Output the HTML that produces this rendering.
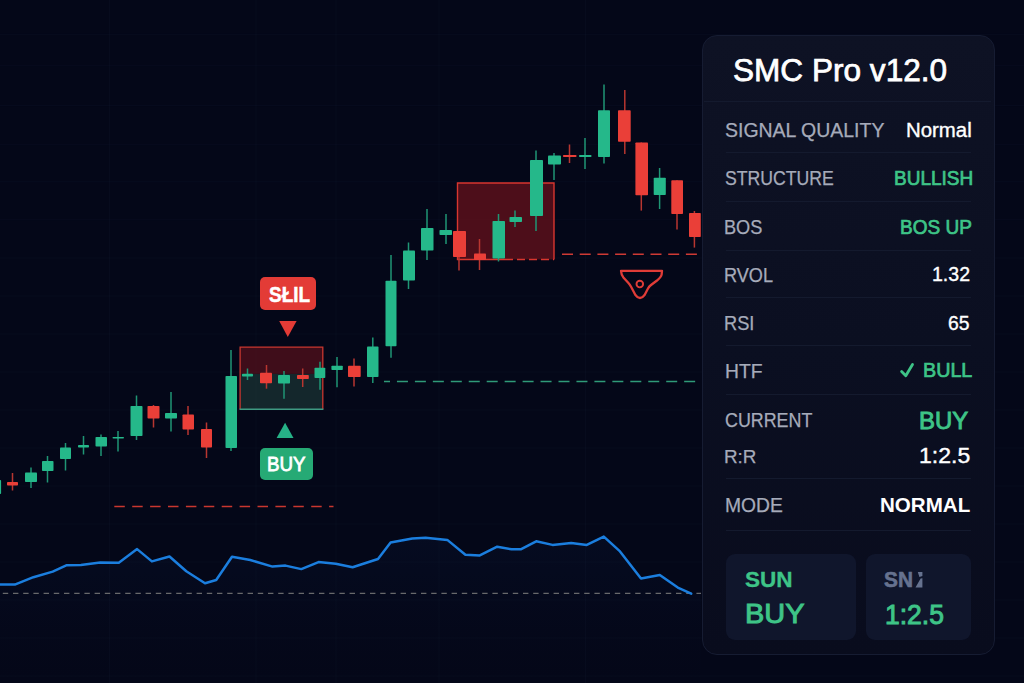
<!DOCTYPE html>
<html><head><meta charset="utf-8"><title>SMC Pro</title>
<style>
html,body{margin:0;padding:0;background:#040718;}
body{width:1024px;height:683px;overflow:hidden;position:relative;font-family:"Liberation Sans",sans-serif;}
.tag{position:absolute;border-radius:5px;}
.sell{left:260.2px;top:276.7px;width:55.9px;height:33.8px;background:#e33b36;}
.buy{left:259.9px;top:448.1px;width:53.5px;height:32px;background:#26aa75;}
.panel{position:absolute;left:701.8px;top:34.6px;width:292.8px;height:620.8px;background:linear-gradient(180deg,#0e1224 0%,#0b0f21 50%,#090c1d 100%);border:1px solid #161c32;border-radius:15px;box-sizing:border-box;}
.sep{position:absolute;height:1px;background:#141a2e;}
.t{position:absolute;white-space:nowrap;line-height:1;transform-origin:0 50%;display:block;}
.card{position:absolute;top:553.5px;height:86.5px;background:#10162c;border-radius:9px;}
</style></head><body>
<svg width="1024" height="683" viewBox="0 0 1024 683" style="position:absolute;left:0;top:0"><defs><linearGradient id="ag" x1="0" y1="0" x2="0" y2="1"><stop offset="0" stop-color="#0f2a5c" stop-opacity="0.13"/><stop offset="1" stop-color="#0a1838" stop-opacity="0"/></linearGradient></defs><line x1="0" y1="34.4" x2="1024" y2="34.4" stroke="#16203a" stroke-opacity="0.18" stroke-width="1"/><line x1="0" y1="65.7" x2="1024" y2="65.7" stroke="#16203a" stroke-opacity="0.18" stroke-width="1"/><line x1="0" y1="105.6" x2="1024" y2="105.6" stroke="#16203a" stroke-opacity="0.18" stroke-width="1"/><line x1="0" y1="144.7" x2="1024" y2="144.7" stroke="#16203a" stroke-opacity="0.18" stroke-width="1"/><line x1="0" y1="181.8" x2="1024" y2="181.8" stroke="#16203a" stroke-opacity="0.18" stroke-width="1"/><line x1="0" y1="219.7" x2="1024" y2="219.7" stroke="#16203a" stroke-opacity="0.18" stroke-width="1"/><line x1="0" y1="258" x2="1024" y2="258" stroke="#16203a" stroke-opacity="0.18" stroke-width="1"/><line x1="0" y1="296" x2="1024" y2="296" stroke="#16203a" stroke-opacity="0.18" stroke-width="1"/><line x1="0" y1="334" x2="1024" y2="334" stroke="#16203a" stroke-opacity="0.18" stroke-width="1"/><line x1="0" y1="372" x2="1024" y2="372" stroke="#16203a" stroke-opacity="0.18" stroke-width="1"/><line x1="0" y1="410" x2="1024" y2="410" stroke="#16203a" stroke-opacity="0.18" stroke-width="1"/><line x1="0" y1="448" x2="1024" y2="448" stroke="#16203a" stroke-opacity="0.18" stroke-width="1"/><line x1="0" y1="486" x2="1024" y2="486" stroke="#16203a" stroke-opacity="0.18" stroke-width="1"/><line x1="0" y1="524" x2="1024" y2="524" stroke="#16203a" stroke-opacity="0.18" stroke-width="1"/><line x1="0" y1="562" x2="1024" y2="562" stroke="#16203a" stroke-opacity="0.18" stroke-width="1"/><line x1="0" y1="600" x2="1024" y2="600" stroke="#16203a" stroke-opacity="0.18" stroke-width="1"/><line x1="0" y1="638" x2="1024" y2="638" stroke="#16203a" stroke-opacity="0.18" stroke-width="1"/><line x1="0" y1="676" x2="1024" y2="676" stroke="#16203a" stroke-opacity="0.18" stroke-width="1"/><line x1="109.5" y1="0" x2="109.5" y2="683" stroke="#16203a" stroke-opacity="0.18" stroke-width="1"/><line x1="256" y1="0" x2="256" y2="683" stroke="#16203a" stroke-opacity="0.18" stroke-width="1"/><line x1="336" y1="0" x2="336" y2="683" stroke="#16203a" stroke-opacity="0.18" stroke-width="1"/><line x1="439" y1="0" x2="439" y2="683" stroke="#16203a" stroke-opacity="0.18" stroke-width="1"/><line x1="585.5" y1="0" x2="585.5" y2="683" stroke="#16203a" stroke-opacity="0.18" stroke-width="1"/><polygon points="0,584.6 14.8,584.6 33.4,577.2 52.7,571.6 66.8,565.2 80.9,564.9 100.2,562.4 118.8,562.8 137.1,549.1 151.9,561.4 169.5,556.5 186.3,571.2 205,583.2 216.2,580 232,556.8 250.3,560 272.5,566.6 285.5,565.6 301.3,569.1 318.5,562.1 335.8,563.8 352.6,567.3 378,559 390.6,542.4 412.3,538.4 425.6,537.7 447.3,539.9 465.4,554.7 479.8,555.4 497.2,546.7 511.6,549.3 520.7,549.3 536.2,541.3 552.5,544.9 571.2,543.1 586.8,544.9 603.8,536.6 620,551.4 641,578.5 659.8,574.9 677.8,587.6 691.2,593.7 701,594 701,683 0,683" fill="url(#ag)"/><rect x="457.5" y="183" width="96.5" height="76.5" fill="#7a141c" fill-opacity="0.62"/><path d="M505,259.5 L457.5,259.5 L457.5,183 L554,183 L554,259.5" fill="none" stroke="#d8362f" stroke-width="1.4"/><line x1="505" y1="259.5" x2="554" y2="259.5" stroke="#d8362f" stroke-width="1.4" stroke-dasharray="8 4"/><rect x="240.1" y="347.1" width="82.7" height="26.8" fill="#7a141c" fill-opacity="0.50"/><rect x="240.1" y="373.9" width="82.7" height="35.4" fill="#22423e" fill-opacity="0.55"/><path d="M240.1,409.3 L240.1,347.1 L322.8,347.1 L322.8,409.3" fill="none" stroke="#c9372f" stroke-width="1.3"/><line x1="239.5" y1="409.3" x2="323.4" y2="409.3" stroke="#3f9a82" stroke-width="1.5"/><line x1="562" y1="254.2" x2="698" y2="254.2" stroke="#cf3a34" stroke-width="1.5" stroke-dasharray="11 6.7"/><line x1="384" y1="381.6" x2="695.6" y2="381.6" stroke="#2f9a78" stroke-width="1.5" stroke-dasharray="11 6.95" stroke-dashoffset="5"/><line x1="114.3" y1="506.5" x2="333.5" y2="506.5" stroke="#c9372f" stroke-width="1.6" stroke-dasharray="10.5 7.4"/><line x1="2.8" y1="593.4" x2="701" y2="593.4" stroke="#68696b" stroke-width="1.1" stroke-dasharray="5.4 4.8"/><line x1="-1" y1="478" x2="-1" y2="496" stroke="#1f9674" stroke-width="1.5"/><rect x="-4" y="480" width="5.1" height="14.0" rx="0.8" fill="#25b88a"/><line x1="12.5" y1="473" x2="12.5" y2="490.5" stroke="#b83630" stroke-width="1.5"/><rect x="7" y="482" width="11.0" height="3.5" rx="0.8" fill="#ea3f38"/><line x1="31" y1="467.5" x2="31" y2="488" stroke="#1f9674" stroke-width="1.5"/><rect x="25" y="472.5" width="12.0" height="9.5" rx="0.8" fill="#25b88a"/><line x1="47.5" y1="456" x2="47.5" y2="482.5" stroke="#1f9674" stroke-width="1.5"/><rect x="42" y="461" width="11.5" height="10.0" rx="0.8" fill="#25b88a"/><line x1="65.5" y1="443" x2="65.5" y2="470.5" stroke="#1f9674" stroke-width="1.5"/><rect x="60" y="447.5" width="11.0" height="11.5" rx="0.8" fill="#25b88a"/><line x1="83.5" y1="436" x2="83.5" y2="454.5" stroke="#1f9674" stroke-width="1.5"/><rect x="78" y="445" width="11.0" height="2.5" rx="0.8" fill="#25b88a"/><line x1="101" y1="434.5" x2="101" y2="456" stroke="#1f9674" stroke-width="1.5"/><rect x="95.5" y="437" width="11.5" height="9.5" rx="0.8" fill="#25b88a"/><line x1="118" y1="431" x2="118" y2="451.5" stroke="#1f9674" stroke-width="1.5"/><rect x="112.5" y="437" width="11.5" height="1.5" rx="0.8" fill="#25b88a"/><line x1="136.5" y1="395.5" x2="136.5" y2="440" stroke="#1f9674" stroke-width="1.5"/><rect x="130.5" y="406" width="12.0" height="30.0" rx="0.8" fill="#25b88a"/><line x1="153.5" y1="405" x2="153.5" y2="427.5" stroke="#b83630" stroke-width="1.5"/><rect x="147.5" y="406" width="12.0" height="12.5" rx="0.8" fill="#ea3f38"/><line x1="171" y1="392" x2="171" y2="431.5" stroke="#1f9674" stroke-width="1.5"/><rect x="165" y="413" width="12.0" height="5.5" rx="0.8" fill="#25b88a"/><line x1="188" y1="406" x2="188" y2="435" stroke="#b83630" stroke-width="1.5"/><rect x="182.5" y="414.5" width="11.5" height="15.0" rx="0.8" fill="#ea3f38"/><line x1="206.5" y1="422.5" x2="206.5" y2="458" stroke="#b83630" stroke-width="1.5"/><rect x="201" y="429" width="11.0" height="18.5" rx="0.8" fill="#ea3f38"/><line x1="231" y1="350" x2="231" y2="451" stroke="#1f9674" stroke-width="1.5"/><rect x="225.5" y="376" width="11.5" height="72.0" rx="0.8" fill="#25b88a"/><line x1="247.5" y1="368.5" x2="247.5" y2="380" stroke="#1f9674" stroke-width="1.5"/><rect x="242" y="373.8" width="11.0" height="2.7" rx="0.8" fill="#25b88a"/><line x1="266.5" y1="365" x2="266.5" y2="388.7" stroke="#b83630" stroke-width="1.5"/><rect x="260" y="372.8" width="12.0" height="10.5" rx="0.8" fill="#ea3f38"/><line x1="284" y1="371" x2="284" y2="398.8" stroke="#1f9674" stroke-width="1.5"/><rect x="278" y="375" width="12.0" height="8.6" rx="0.8" fill="#25b88a"/><line x1="302.7" y1="368.5" x2="302.7" y2="387" stroke="#b83630" stroke-width="1.5"/><rect x="297" y="375" width="11.8" height="4.0" rx="0.8" fill="#ea3f38"/><line x1="320" y1="361.7" x2="320" y2="389.7" stroke="#1f9674" stroke-width="1.5"/><rect x="314.5" y="367.8" width="10.8" height="10.2" rx="0.8" fill="#25b88a"/><line x1="337" y1="357" x2="337" y2="387.3" stroke="#1f9674" stroke-width="1.5"/><rect x="331.4" y="365.8" width="11.4" height="4.2" rx="0.8" fill="#25b88a"/><line x1="354" y1="358.4" x2="354" y2="386.6" stroke="#b83630" stroke-width="1.5"/><rect x="348" y="365.8" width="12.7" height="11.2" rx="0.8" fill="#ea3f38"/><line x1="372.8" y1="337.5" x2="372.8" y2="383" stroke="#1f9674" stroke-width="1.5"/><rect x="367" y="346.6" width="11.5" height="30.4" rx="0.8" fill="#25b88a"/><line x1="391" y1="255" x2="391" y2="357.7" stroke="#1f9674" stroke-width="1.5"/><rect x="385.5" y="280.7" width="11.0" height="65.5" rx="0.8" fill="#25b88a"/><line x1="408.5" y1="242.5" x2="408.5" y2="289" stroke="#1f9674" stroke-width="1.5"/><rect x="403" y="250.5" width="12.0" height="30.0" rx="0.8" fill="#25b88a"/><line x1="427" y1="209" x2="427" y2="260" stroke="#1f9674" stroke-width="1.5"/><rect x="421" y="228" width="12.5" height="22.5" rx="0.8" fill="#25b88a"/><line x1="446" y1="214" x2="446" y2="244" stroke="#1f9674" stroke-width="1.5"/><rect x="439.5" y="230" width="12.5" height="5.0" rx="0.8" fill="#25b88a"/><line x1="459" y1="231" x2="459" y2="270.5" stroke="#b83630" stroke-width="1.5"/><rect x="453" y="231" width="13.0" height="26.0" rx="0.8" fill="#ea3f38"/><line x1="479.5" y1="239" x2="479.5" y2="270" stroke="#b83630" stroke-width="1.5"/><rect x="474" y="253.5" width="12.0" height="6.5" rx="0.8" fill="#ea3f38"/><line x1="498.5" y1="214" x2="498.5" y2="261.5" stroke="#1f9674" stroke-width="1.5"/><rect x="492.5" y="221" width="12.5" height="37.5" rx="0.8" fill="#25b88a"/><line x1="515" y1="210.5" x2="515" y2="227" stroke="#1f9674" stroke-width="1.5"/><rect x="509.5" y="217" width="12.5" height="5.0" rx="0.8" fill="#25b88a"/><line x1="536" y1="150.5" x2="536" y2="231" stroke="#1f9674" stroke-width="1.5"/><rect x="530" y="160" width="13.0" height="56.0" rx="0.8" fill="#25b88a"/><line x1="554" y1="153" x2="554" y2="180" stroke="#1f9674" stroke-width="1.5"/><rect x="548" y="155.5" width="13.0" height="9.0" rx="0.8" fill="#25b88a"/><line x1="569.5" y1="144.5" x2="569.5" y2="163" stroke="#b83630" stroke-width="1.5"/><rect x="563" y="155" width="13.5" height="2.0" rx="0.8" fill="#ea3f38"/><line x1="585" y1="138" x2="585" y2="169" stroke="#1f9674" stroke-width="1.5"/><rect x="579" y="155" width="12.5" height="2.0" rx="0.8" fill="#25b88a"/><line x1="604" y1="84.6" x2="604" y2="163.4" stroke="#1f9674" stroke-width="1.5"/><rect x="598" y="110.3" width="12.0" height="46.7" rx="0.8" fill="#25b88a"/><line x1="624.8" y1="90" x2="624.8" y2="154" stroke="#b83630" stroke-width="1.5"/><rect x="618" y="110.3" width="12.7" height="31.5" rx="0.8" fill="#ea3f38"/><line x1="641.3" y1="142.5" x2="641.3" y2="210.6" stroke="#b83630" stroke-width="1.5"/><rect x="635.4" y="142.5" width="12.6" height="52.7" rx="0.8" fill="#ea3f38"/><line x1="659.6" y1="168" x2="659.6" y2="209" stroke="#1f9674" stroke-width="1.5"/><rect x="653.7" y="177.7" width="12.1" height="17.3" rx="0.8" fill="#25b88a"/><line x1="677" y1="180.2" x2="677" y2="229.6" stroke="#b83630" stroke-width="1.5"/><rect x="671.3" y="180.2" width="11.7" height="33.8" rx="0.8" fill="#ea3f38"/><line x1="694.4" y1="211" x2="694.4" y2="247.6" stroke="#b83630" stroke-width="1.5"/><rect x="689" y="213" width="11.8" height="24.0" rx="0.8" fill="#ea3f38"/><polyline points="0,584.6 14.8,584.6 33.4,577.2 52.7,571.6 66.8,565.2 80.9,564.9 100.2,562.4 118.8,562.8 137.1,549.1 151.9,561.4 169.5,556.5 186.3,571.2 205,583.2 216.2,580 232,556.8 250.3,560 272.5,566.6 285.5,565.6 301.3,569.1 318.5,562.1 335.8,563.8 352.6,567.3 378,559 390.6,542.4 412.3,538.4 425.6,537.7 447.3,539.9 465.4,554.7 479.8,555.4 497.2,546.7 511.6,549.3 520.7,549.3 536.2,541.3 552.5,544.9 571.2,543.1 586.8,544.9 603.8,536.6 620,551.4 641,578.5 659.8,574.9 677.8,587.6 691.2,593.7" fill="none" stroke="#1b7ede" stroke-width="2.5" stroke-linejoin="round" stroke-linecap="round"/><polygon points="279.2,321 296.6,321 287.8,337.1" fill="#e33b36"/><polygon points="276.6,437.9 293.5,437.9 285.1,422.7" fill="#26b287"/><path d="M621,270.8 L662,270.8 L661.6,274.6 Q661.2,277 657,280.5 L651,285 Q649,286.6 648,288.5 L644.6,295 Q640,301 635.4,295 L631.2,287 Q630,284.8 628,282.6 L623.4,277.4 Q621.3,275 621,270.8 Z" fill="none" stroke="#e03c37" stroke-width="2.3" stroke-linejoin="round"/><circle cx="639.8" cy="284.1" r="3.3" fill="none" stroke="#e03c37" stroke-width="1.9"/></svg>
<div class="tag sell"></div>
<div class="tag buy"></div>
<div class="panel"></div>
<div class="sep" style="top:100.5px;left:704px;width:287px"></div><div class="sep" style="top:152.2px;left:726px;width:245px"></div><div class="sep" style="top:200.5px;left:726px;width:245px"></div><div class="sep" style="top:249.5px;left:726px;width:245px"></div><div class="sep" style="top:296.8px;left:726px;width:245px"></div><div class="sep" style="top:345.2px;left:726px;width:245px"></div><div class="sep" style="top:393.5px;left:726px;width:245px"></div><div class="sep" style="top:477.8px;left:726px;width:245px"></div><div class="sep" style="top:529.5px;left:726px;width:245px"></div>
<div class="card" style="left:725.8px;width:130.4px"></div>
<div class="card" style="left:865.5px;width:105.5px"></div>
<svg class="ico" width="1024" height="683" viewBox="0 0 1024 683" style="position:absolute;left:0;top:0">
<path d="M901.6,371.4 L905.8,375.7 L912.5,364.5" fill="none" stroke="#3ec487" stroke-width="2.8" stroke-linecap="round" stroke-linejoin="round"/>
<path d="M917.8,572 L922.4,572 L922.4,576 L919.4,577 Z M915.5,587.6 L922.4,587.6 L922.4,578.2 L920.6,578.4 Z" fill="#66728f"/>
</svg>
<span class="t" id="title" style="left:732.63px;top:54.01px;font-size:32px;color:#ffffff;-webkit-text-stroke:0.75px #ffffff;transform:scaleX(0.9868);">SMC Pro v12.0</span><span class="t" id="sigq_l" style="left:725.35px;top:120.89px;font-size:19.5px;color:#a6abba;-webkit-text-stroke:0.25px #a6abba;transform:scaleX(0.9984);">SIGNAL QUALITY</span><span class="t" id="sigq_v" style="left:905.69px;top:120.79px;font-size:19.5px;color:#ffffff;-webkit-text-stroke:0.35px #ffffff;transform:scaleX(1.0453);">Normal</span><span class="t" id="struct_l" style="left:724.65px;top:169.49px;font-size:19.5px;color:#a6abba;-webkit-text-stroke:0.25px #a6abba;transform:scaleX(0.9054);">STRUCTURE</span><span class="t" id="struct_v" style="left:893.65px;top:168.79px;font-size:19.5px;color:#3ec487;-webkit-text-stroke:0.7px #3ec487;transform:scaleX(0.9742);">BULLISH</span><span class="t" id="bos_l" style="left:724.01px;top:217.89px;font-size:19.5px;color:#a6abba;-webkit-text-stroke:0.25px #a6abba;transform:scaleX(0.9317);">BOS</span><span class="t" id="bos_v" style="left:899.95px;top:217.89px;font-size:19.5px;color:#3ec487;-webkit-text-stroke:0.7px #3ec487;transform:scaleX(0.9750);">BOS UP</span><span class="t" id="rvol_l" style="left:724.01px;top:265.89px;font-size:19.5px;color:#a6abba;-webkit-text-stroke:0.25px #a6abba;transform:scaleX(0.9302);">RVOL</span><span class="t" id="rvol_v" style="left:932.05px;top:264.89px;font-size:19.5px;color:#ffffff;-webkit-text-stroke:0.35px #ffffff;transform:scaleX(1.0023);">1.32</span><span class="t" id="rsi_l" style="left:723.95px;top:314.19px;font-size:19.5px;color:#a6abba;-webkit-text-stroke:0.25px #a6abba;transform:scaleX(0.9345);">RSI</span><span class="t" id="rsi_v" style="left:948.47px;top:314.19px;font-size:19.5px;color:#ffffff;-webkit-text-stroke:0.35px #ffffff;transform:scaleX(0.9927);">65</span><span class="t" id="htf_l" style="left:724.60px;top:361.79px;font-size:19.5px;color:#a6abba;-webkit-text-stroke:0.25px #a6abba;transform:scaleX(0.9891);">HTF</span><span class="t" id="htf_v" style="left:922.67px;top:360.79px;font-size:19.5px;color:#3ec487;-webkit-text-stroke:0.7px #3ec487;transform:scaleX(1.0114);">BULL</span><span class="t" id="cur_l" style="left:724.97px;top:411.29px;font-size:19.5px;color:#a6abba;-webkit-text-stroke:0.25px #a6abba;transform:scaleX(0.9157);">CURRENT</span><span class="t" id="cur_v" style="left:918.98px;top:410.01px;font-size:23.5px;color:#3ec487;-webkit-text-stroke:0.9px #3ec487;transform:scaleX(1.0171);">BUY</span><span class="t" id="rr_l" style="left:723.82px;top:447.74px;font-size:18.5px;color:#a6abba;-webkit-text-stroke:0.25px #a6abba;transform:scaleX(1.0179);">R:R</span><span class="t" id="rr_v" style="left:919.32px;top:445.48px;font-size:22px;color:#ffffff;-webkit-text-stroke:0.4px #ffffff;transform:scaleX(1.0460);">1:2.5</span><span class="t" id="mode_l" style="left:724.60px;top:495.79px;font-size:19.5px;color:#a6abba;-webkit-text-stroke:0.25px #a6abba;transform:scaleX(0.9882);">MODE</span><span class="t" id="mode_v" style="left:880.26px;top:495.79px;font-size:19.5px;color:#ffffff;font-weight:bold;transform:scaleX(1.0551);">NORMAL</span><span class="t" id="sun" style="left:744.69px;top:570.10px;font-size:21.5px;color:#3ec487;font-weight:bold;-webkit-text-stroke:0.3px #3ec487;transform:scaleX(1.0486);">SUN</span><span class="t" id="buy2" style="left:744.61px;top:600.20px;font-size:28px;color:#3ec487;-webkit-text-stroke:1.0px #3ec487;transform:scaleX(1.0327);">BUY</span><span class="t" id="sn" style="left:884.44px;top:570.10px;font-size:21.5px;color:#66728f;font-weight:bold;-webkit-text-stroke:0.6px #66728f;transform:scaleX(0.9679);">SN</span><span class="t" id="rr2" style="left:885.05px;top:600.90px;font-size:28px;color:#3ec487;-webkit-text-stroke:1.0px #3ec487;transform:scaleX(0.9458);">1:2.5</span><span class="t" id="sell" style="left:269.33px;top:283.78px;font-size:22px;color:#ffffff;font-weight:bold;-webkit-text-stroke:0.5px #ffffff;transform:scaleX(0.8614);">SŁIL</span><span class="t" id="buy" style="left:266.51px;top:452.92px;font-size:21px;color:#ffffff;-webkit-text-stroke:0.8px #ffffff;transform:scaleX(0.8922);">BUY</span>
</body></html>
